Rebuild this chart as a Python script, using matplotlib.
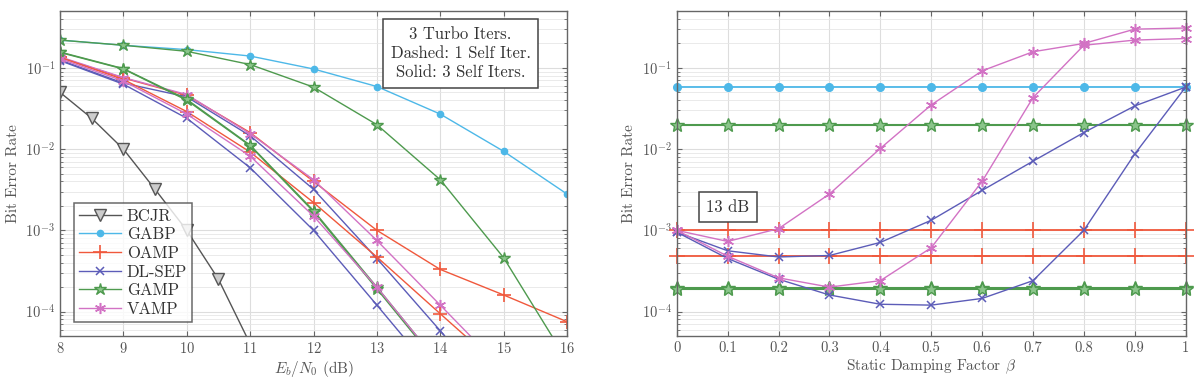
import numpy as np
import matplotlib.pyplot as plt

plt.rcParams['font.family'] = 'serif'
plt.rcParams['font.serif'] = ['cmr10', 'DejaVu Serif']
plt.rcParams['mathtext.fontset'] = 'cm'
plt.rcParams['axes.formatter.use_mathtext'] = True

# colours
c_bcjr = '#555555'
c_gabp = '#4DB8E8'
c_oamp = '#F0583C'
c_dlsep = '#5C5CB8'
c_gamp = '#4E9A4E'
c_vamp = '#D272C4'

# ---- left: BER vs Eb/N0 ----
snr = np.array([8, 9, 10, 11, 12, 13, 14, 15, 16])
snr_bcjr = np.array([8, 8.5, 9, 9.5, 10, 10.5, 11])
ber_bcjr = [0.05, 0.024, 0.01, 0.0032, 1e-3, 2.5e-4, 4e-5]
ber_gabp = [0.22, 0.19, 0.168, 0.14, 0.097, 0.059, 0.027, 0.0094, 0.0028]
ber_gamp_a = [0.22, 0.19, 0.16, 0.11, 0.058, 0.02, 0.0042, 4.6e-4, 2.5e-5]
ber_gamp_b = [0.155, 0.097, 0.040, 0.011, 0.0017, 1.9e-4, 2.1e-5]
ber_gamp_c = [0.157, 0.098, 0.041, 0.0112, 0.00175, 2.0e-4, 2.2e-5]
ber_oamp_1 = [0.135, 0.075, 0.046, 0.016, 0.004, 1e-3, 3.3e-4, 1.6e-4, 7.5e-5]
ber_oamp_3 = [0.135, 0.072, 0.029, 0.0092, 0.0022, 4.7e-4, 9.4e-5, 1.9e-5]
ber_vamp_1 = [0.137, 0.076, 0.047, 0.0155, 0.0042, 7.5e-4, 1.2e-4, 1.9e-5]
ber_vamp_3 = [0.13, 0.069, 0.027, 0.0082, 0.0015, 2e-4, 2.2e-5]
ber_dlsep_1 = [0.125, 0.065, 0.044, 0.0146, 0.0032, 4.5e-4, 5.8e-5, 7e-6]
ber_dlsep_3 = [0.123, 0.063, 0.024, 0.0059, 1e-3, 1.2e-4, 1.4e-5]

# ---- right: BER vs damping at 13 dB ----
beta = np.array([0, 0.1, 0.2, 0.3, 0.4, 0.5, 0.6, 0.7, 0.8, 0.9, 1.0])
gabp_13 = 0.058
gamp_13 = [0.02, 1.95e-4, 1.9e-4]
oamp_13 = [1e-3, 4.8e-4]
vamp_1_b = [1e-3, 7.3e-4, 1.05e-3, 2.8e-3, 0.0102, 0.035, 0.092, 0.158, 0.2, 0.3, 0.31]
vamp_3_b = [1e-3, 4.8e-4, 2.6e-4, 2e-4, 2.4e-4, 6.1e-4, 0.004, 0.043, 0.19, 0.22, 0.23]
dlsep_1_b = [9.5e-4, 5.6e-4, 4.7e-4, 4.9e-4, 7.1e-4, 1.33e-3, 3.1e-3, 0.0071, 0.016, 0.034, 0.058]
dlsep_3_b = [9.5e-4, 4.5e-4, 2.5e-4, 1.6e-4, 1.23e-4, 1.2e-4, 1.45e-4, 2.4e-4, 1e-3, 0.0087, 0.058]

fig = plt.figure(figsize=(12, 3.84), dpi=100)
ax1 = fig.add_axes([0.05, 0.125, 0.4225, 0.846])
ax2 = fig.add_axes([0.564, 0.125, 0.424, 0.846])

lw = 1.0

def star(ax, x, y, c, **kw):
    return ax.semilogy(x, y, color=c, lw=lw, marker='*', ms=9, mfc='#8BC58B', mec=c, **kw)

ax1.semilogy(snr_bcjr, ber_bcjr, color=c_bcjr, lw=lw, marker='v', ms=8, mfc='#cccccc', mec=c_bcjr, label='BCJR')
ax1.semilogy(snr, ber_gabp, color=c_gabp, lw=lw, marker='o', ms=4.5, mfc=c_gabp, mec=c_gabp, label='GABP')
ax1.semilogy(snr[:len(ber_oamp_1)], ber_oamp_1, color=c_oamp, lw=lw, marker='+', ms=10, mew=1.2, label='OAMP')
ax1.semilogy(snr[:len(ber_dlsep_1)], ber_dlsep_1, color=c_dlsep, lw=lw, marker='x', ms=6, mew=1.1, label='DL-SEP')
star(ax1, snr[:len(ber_gamp_a)], ber_gamp_a, c_gamp, label='GAMP')
ax1.semilogy(snr[:len(ber_vamp_1)], ber_vamp_1, color=c_vamp, lw=lw, marker=(6, 2, 0), ms=8, mew=1.1, label='VAMP')
ax1.semilogy(snr[:len(ber_oamp_3)], ber_oamp_3, color=c_oamp, lw=lw, marker='+', ms=10, mew=1.2)
ax1.semilogy(snr[:len(ber_dlsep_3)], ber_dlsep_3, color=c_dlsep, lw=lw, marker='x', ms=6, mew=1.1)
star(ax1, snr[:len(ber_gamp_b)], ber_gamp_b, c_gamp)
star(ax1, snr[:len(ber_gamp_c)], ber_gamp_c, c_gamp)
ax1.semilogy(snr[:len(ber_vamp_3)], ber_vamp_3, color=c_vamp, lw=lw, marker=(6, 2, 0), ms=8, mew=1.1)

ax1.set_xlim(8, 16)
ax1.set_xticks(snr)
ax1.set_xlabel('$E_b/N_0$ (dB)', color='#555555', fontsize=11, labelpad=2)
ax1.text(0.79, 0.87, '3 Turbo Iters.\nDashed: 1 Self Iter.\nSolid: 3 Self Iters.',
         transform=ax1.transAxes, ha='center', va='center', fontsize=12, color='#333333',
         linespacing=1.3,
         bbox=dict(boxstyle='square,pad=0.45', fc='white', ec='#444444', lw=1.1))
leg = ax1.legend(loc='lower left', fontsize=12, frameon=True, fancybox=False,
                 edgecolor='#444444', borderpad=0.3, labelspacing=0.2, handlelength=2.5,
                 handletextpad=0.35, bbox_to_anchor=(0.012, 0.018))
leg.get_frame().set_linewidth(1.1)
for t in leg.get_texts():
    t.set_color('#333333')

n = len(beta)
ax2.semilogy(beta, [gabp_13] * n, color=c_gabp, lw=1.3, marker='o', ms=5.5, mfc=c_gabp, mec=c_gabp, clip_on=False)
for v in gamp_13:
    ax2.semilogy(beta, [v] * n, color=c_gamp, lw=1.5, marker='*', ms=10, mfc='#8BC58B', mec=c_gamp, clip_on=False)
for v in oamp_13:
    ax2.semilogy(beta, [v] * n, color=c_oamp, lw=1.3, marker='+', ms=11, mew=1.2, clip_on=False)
ax2.semilogy(beta, dlsep_1_b, color=c_dlsep, lw=lw, marker='x', ms=6, mew=1.1, clip_on=False)
ax2.semilogy(beta, dlsep_3_b, color=c_dlsep, lw=lw, marker='x', ms=6, mew=1.1, clip_on=False)
ax2.semilogy(beta, vamp_1_b, color=c_vamp, lw=lw, marker=(6, 2, 0), ms=8, mew=1.1, clip_on=False)
ax2.semilogy(beta, vamp_3_b, color=c_vamp, lw=lw, marker=(6, 2, 0), ms=8, mew=1.1, clip_on=False)

ax2.set_xlim(0, 1)
ax2.set_xticks(beta)
ax2.set_xticklabels(['0', '0.1', '0.2', '0.3', '0.4', '0.5', '0.6', '0.7', '0.8', '0.9', '1'])
ax2.set_xlabel(r'Static Damping Factor $\beta$', color='#555555', fontsize=11, labelpad=2)
ax2.text(0.1, 0.397, '13 dB', transform=ax2.transAxes, ha='center', va='center',
         fontsize=12, color='#333333',
         bbox=dict(boxstyle='square,pad=0.45', fc='white', ec='#444444', lw=1.1))

for ax in (ax1, ax2):
    ax.set_ylim(5e-5, 0.5)
    ax.set_yticks([1e-4, 1e-3, 1e-2, 1e-1])
    ax.set_ylabel('Bit Error Rate', color='#555555', fontsize=11, labelpad=4)
    ax.grid(True, which='major', color='#dddddd', lw=0.8)
    ax.grid(True, which='minor', axis='y', color='#e6e6e6', lw=0.6)
    ax.set_axisbelow(True)
    ax.tick_params(which='both', direction='in', top=True, right=True, colors='#666666',
                   labelsize=10.5, labelcolor='#555555')
    for s in ax.spines.values():
        s.set_color('#666666')
        s.set_linewidth(1.0)

plt.savefig('out.png', dpi=100)
